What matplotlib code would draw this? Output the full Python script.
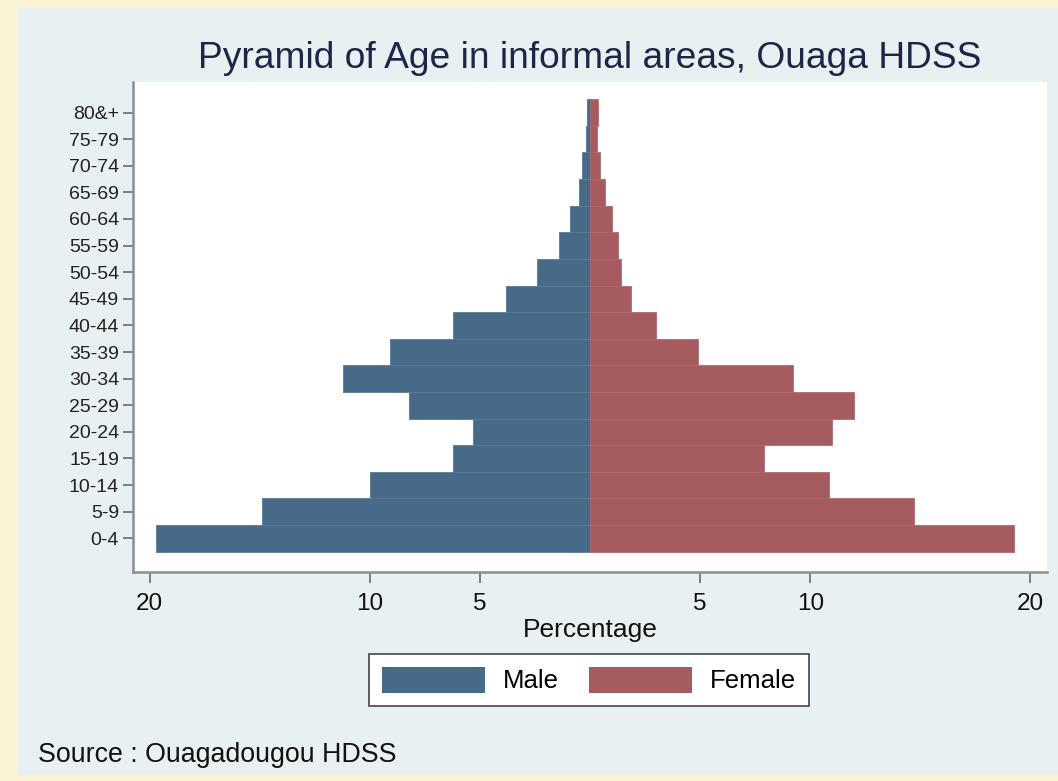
import matplotlib
matplotlib.use("Agg")
import matplotlib.pyplot as plt
from matplotlib.patches import Rectangle, Patch
import numpy as np

plt.rcParams['font.family'] = ['Liberation Sans', 'DejaVu Sans']

age_groups = ["0-4", "5-9", "10-14", "15-19", "20-24", "25-29", "30-34", "35-39",
              "40-44", "45-49", "50-54", "55-59", "60-64", "65-69", "70-74", "75-79", "80&+"]
male = [19.7, 14.9, 10.0, 6.2, 5.3, 8.2, 11.2, 9.1, 6.2, 3.8, 2.4, 1.4, 0.9, 0.52, 0.38, 0.2, 0.12]
female = [19.25, 14.7, 10.85, 7.9, 11.0, 12.0, 9.2, 4.9, 3.0, 1.87, 1.4, 1.26, 1.0, 0.7, 0.45, 0.3, 0.36]
xtick_values = [-20, -10, -5, 5, 10, 20]
xtick_labels = ["20", "10", "5", "5", "10", "20"]

male_color = "#486a89"
female_color = "#a55b5f"

W, H = 1058, 781
fig = plt.figure(figsize=(W / 100, H / 100), dpi=100)
fig.patch.set_facecolor("#fbf1d3")

# graph region
fig.patches.append(Rectangle((18 / W, 1 - 775 / H), (W - 18) / W, (775 - 8) / H,
                             transform=fig.transFigure, facecolor="#e8f0f2",
                             edgecolor="none", zorder=-10))

ax = fig.add_axes([133 / W, 1 - 572 / H, (1047 - 133) / W, (572 - 82) / H])
ax.set_zorder(1)
ax.set_facecolor("white")

y = np.arange(len(age_groups))
ax.barh(y, [-m for m in male], height=1.0, color=male_color,
        edgecolor="#5a7a97", linewidth=0.6)
ax.barh(y, female, height=1.0, color=female_color,
        edgecolor="#b06a6e", linewidth=0.6)

ax.set_xlim(-20.75, 20.75)
ax.set_ylim(-1.27, 17.15)
ax.set_yticks(y)
ax.set_yticklabels(age_groups, fontsize=14)
ax.set_xticks(xtick_values)
ax.set_xticklabels(xtick_labels, fontsize=17.5)

for s in ["top", "right"]:
    ax.spines[s].set_visible(False)
for s in ["left", "bottom"]:
    ax.spines[s].set_color("#8a8f93")
    ax.spines[s].set_linewidth(1.8)
ax.tick_params(axis="y", length=7, width=1.3, color="#6f7478", pad=3, labelcolor="#222222")
ax.tick_params(axis="x", length=8, width=1.3, color="#6f7478", pad=7, labelcolor="#111111")

ax.set_xlabel("Percentage", fontsize=19, color="#111111", labelpad=2)

fig.text(590 / W, 1 - 59 / H, "Pyramid of Age in informal areas, Ouaga HDSS",
         ha="center", va="center", fontsize=26.7, color="#1c2747")

handles = [Patch(facecolor=male_color, edgecolor="none", label="Male"),
           Patch(facecolor=female_color, edgecolor="none", label="Female")]
leg = fig.legend(handles=handles, loc="center", bbox_to_anchor=(589 / W, 1 - 680 / H),
                 ncol=2, frameon=True, fontsize=18.5, handlelength=4.0, handleheight=1.2,
                 handletextpad=0.7, columnspacing=1.2, borderpad=0.5, fancybox=False,
                 framealpha=1.0)
leg.get_frame().set_edgecolor("#444444")
leg.get_frame().set_linewidth(1.2)
leg.get_frame().set_facecolor("white")

fig.text(38 / W, 1 - 755 / H, "Source : Ouagadougou HDSS", ha="left", va="center",
         fontsize=19.3, color="#111111")

fig.savefig("out.png", dpi=100, facecolor=fig.get_facecolor())
